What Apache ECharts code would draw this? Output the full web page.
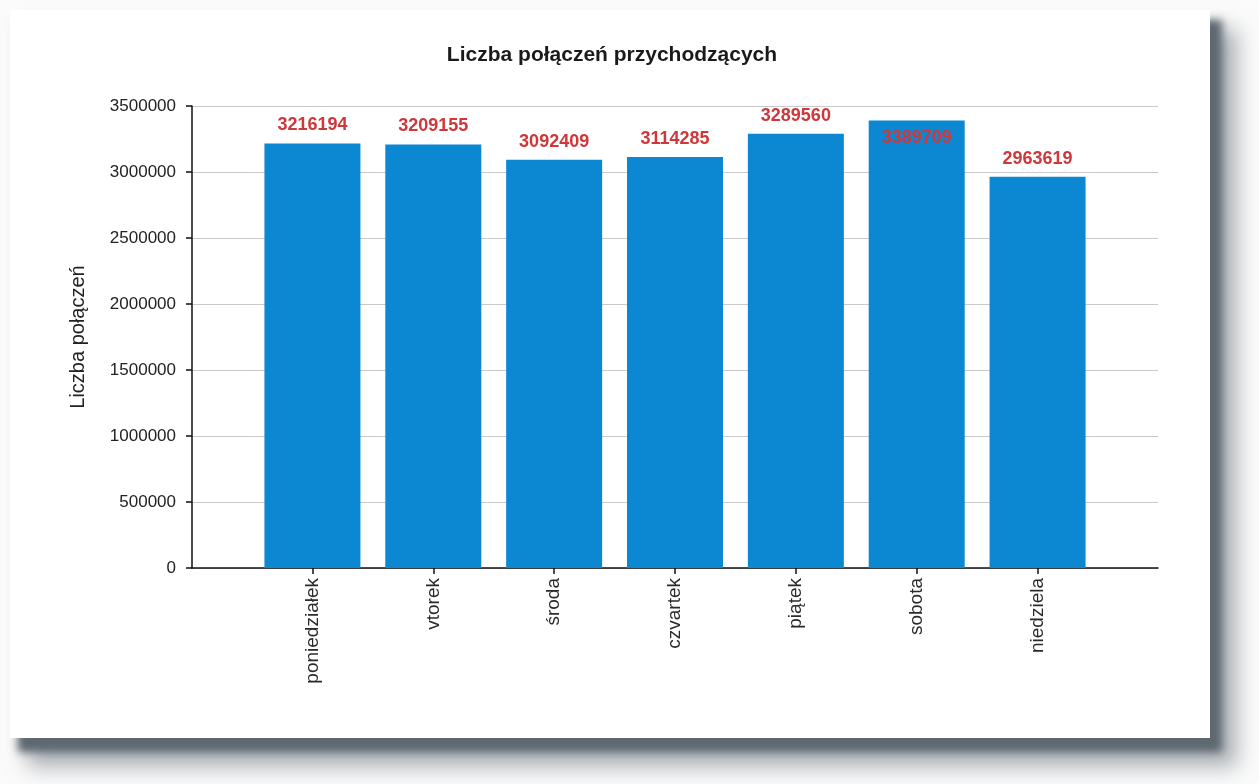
<!DOCTYPE html>
<html>
<head>
<meta charset="utf-8">
<script src="https://cdn.jsdelivr.net/npm/echarts@6/dist/echarts.min.js"></script>
<style>
  html, body { margin: 0; padding: 0; background: #fbfbfb; }
  .card {
    position: absolute; left: 10px; top: 10px; width: 1200px; height: 728px;
    background: #fff;
    box-shadow: 10px 12px 8px 2px #5d6870, 22px 24px 20px 5px rgba(120,128,136,0.6);
  }
  #chart { position: absolute; left: 0; top: 0; width: 1259px; height: 784px; }
</style>
</head>
<body>
<div class="card"></div>
<div id="chart"></div>
<script>
const days = ['poniedziałek', 'vtorek', 'środa', 'czvartek', 'piątek', 'sobota', 'niedziela']
const calls = [3216194, 3209155, 3092409, 3114285, 3289560, 3389709, 2963619]
const yTicks = [0, 500000, 1000000, 1500000, 2000000, 2500000, 3000000, 3500000]

const chart = echarts.init(document.getElementById('chart'))
const font = 'Liberation Sans, Arial, sans-serif'

// najwyższy słupek ma etykietę wewnątrz (jak w oryginale)
const barData = calls.map(v => ({
  value: v,
  label: v > 3350000 ? { position: 'insideTop', distance: 8 } : {}
}))

const option = {
  backgroundColor: 'transparent',
  title: {
    text: 'Liczba połączeń przychodzących',
    left: 607,
    top: 40,
    textAlign: 'center',
    textStyle: { fontFamily: font, fontSize: 21, fontWeight: 'bold', color: '#1a1a1a' }
  },
  grid: [
    { left: 192, right: 101, top: 106, bottom: 216 },
    { left: 252, right: 161, top: 106, bottom: 216 }
  ],
  xAxis: [
    {
      type: 'value', gridIndex: 0, min: 0, max: 1,
      axisLine: { show: true, lineStyle: { color: '#111', width: 1.5 } },
      axisTick: { show: false }, axisLabel: { show: false }, splitLine: { show: false }
    },
    {
      type: 'category', gridIndex: 1, data: days,
      axisLine: { show: false },
      axisTick: { show: true, alignWithLabel: true, length: 6, lineStyle: { color: '#111', width: 1.5 } },
      axisLabel: { rotate: 90, margin: 10, fontFamily: font, fontSize: 19, color: '#2a2a2a' }
    }
  ],
  yAxis: [
    {
      type: 'value', gridIndex: 0, min: yTicks[0], max: yTicks[yTicks.length - 1], interval: 500000,
      name: 'Liczba połączeń', nameLocation: 'middle', nameGap: 104,
      nameTextStyle: { fontFamily: font, fontSize: 20, color: '#222' },
      axisLine: { show: true, lineStyle: { color: '#111', width: 1.5 } },
      axisTick: { show: true, length: 6, lineStyle: { color: '#111', width: 1.5 } },
      axisLabel: { margin: 16, fontFamily: font, fontSize: 17, color: '#222', formatter: v => String(v) },
      splitLine: { show: true, lineStyle: { color: '#c9c9c9' } }
    },
    {
      type: 'value', gridIndex: 1, min: yTicks[0], max: yTicks[yTicks.length - 1], show: false
    }
  ],
  series: [
    {
      type: 'bar', xAxisIndex: 1, yAxisIndex: 1,
      data: barData,
      barWidth: 96,
      itemStyle: { color: '#0c88d3' },
      label: {
        show: true, position: 'top', distance: 9,
        fontFamily: font, fontSize: 18, fontWeight: 'bold', color: '#d0373a'
      }
    }
  ]
}

chart.setOption(option)
window.addEventListener('resize', () => chart.resize())
</script>
</body>
</html>
